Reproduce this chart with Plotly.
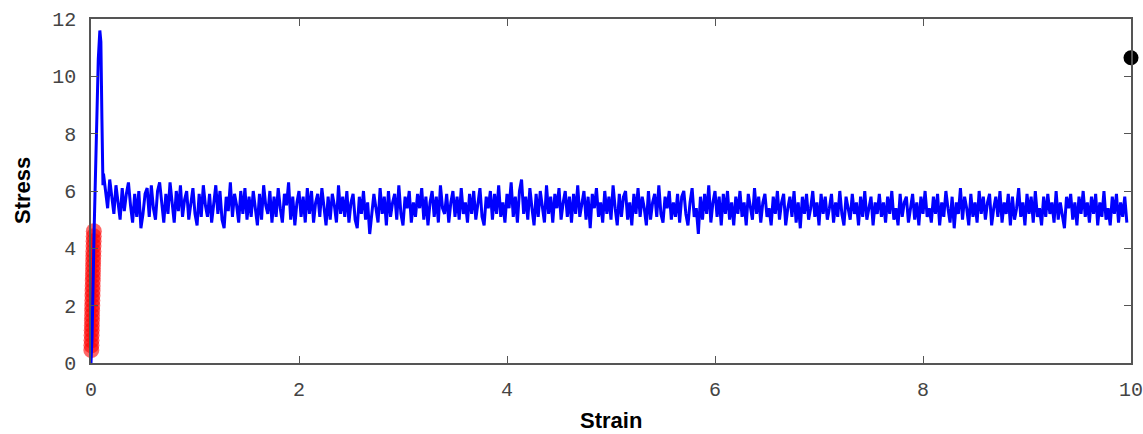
import numpy as np
import plotly.graph_objects as go

# Initial loading ramp and peak
ramp_strain = [0.0, 0.01, 0.03, 0.05, 0.07, 0.085, 0.095, 0.105, 0.115]
ramp_stress = [0.0, 0.9, 4.6, 7.8, 10.6, 11.6, 11.2, 8.5, 6.2]

# Steady flow regime (strain 0.12 .. ~9.96, step 0.02)
flow_stress = [
    6.6,6.0,5.4,6.4,5.7,5.2,6.2,5.6,5.0,6.1,5.3,5.9,6.3,5.5,4.9,5.9,5.1,6.0,4.7,5.2,5.9,6.1,5.1,6.2,5.4,
    5.0,6.0,6.3,5.6,4.9,5.9,5.2,6.3,5.5,4.9,6.0,5.3,6.2,5.1,5.7,6.0,5.0,5.5,6.1,5.2,4.8,5.9,5.1,6.2,5.5,
    5.1,5.9,4.9,5.6,6.2,5.2,6.0,5.0,4.7,5.8,5.3,6.3,5.1,5.9,5.5,4.9,6.0,5.2,6.1,5.0,5.8,5.1,6.0,5.4,4.8,
    5.9,5.0,6.2,5.5,5.2,6.0,4.9,5.8,5.1,6.1,5.4,4.9,5.9,5.5,6.3,5.0,5.8,4.8,5.6,6.0,5.1,5.8,4.9,6.1,5.2,
    6.0,4.9,5.6,5.9,5.1,6.1,5.4,4.8,5.8,5.0,5.9,5.5,4.9,6.2,5.2,5.8,5.1,6.0,4.9,5.6,5.9,5.0,4.7,5.8,5.2,
    6.0,5.0,5.6,4.5,5.1,5.9,5.4,4.9,6.1,5.2,5.8,4.8,6.0,5.1,5.6,5.9,5.0,6.2,5.2,4.8,5.8,5.4,6.0,4.9,5.6,
    5.1,5.9,5.4,6.1,5.0,5.8,4.8,5.6,6.0,5.1,5.8,4.9,6.2,5.4,5.2,5.9,4.9,5.6,6.0,5.1,5.8,5.0,6.1,5.2,5.6,
    4.9,5.9,5.2,6.0,5.0,5.6,6.1,5.1,4.8,5.8,5.4,6.0,5.0,5.9,5.2,6.2,5.1,5.6,4.9,5.9,5.4,6.3,5.1,5.8,4.9,
    6.0,6.4,5.2,5.8,5.0,6.1,5.4,4.8,5.9,5.1,6.0,5.5,4.9,6.2,5.2,5.8,4.9,5.9,5.4,6.1,5.0,5.6,6.0,5.1,5.8,
    4.9,5.9,5.2,6.2,5.1,5.6,6.0,5.0,5.8,4.7,5.9,5.4,6.1,5.1,5.6,4.9,6.0,5.2,5.8,5.0,6.2,5.4,4.8,5.9,5.1,
    5.8,6.0,5.0,5.6,4.8,5.9,5.2,6.1,5.1,5.8,5.4,4.8,6.0,5.0,5.6,5.9,5.1,6.2,5.2,4.9,5.8,5.4,6.0,5.0,5.6,
    5.1,5.9,4.9,5.8,6.0,5.2,4.8,5.6,6.1,5.1,5.4,4.5,5.8,5.0,5.9,5.2,6.2,4.9,5.6,6.0,5.1,5.8,4.8,5.9,5.2,
    6.0,5.0,5.6,4.8,5.8,5.2,6.0,5.1,5.6,4.8,5.9,5.4,5.0,6.1,5.2,5.8,4.9,5.6,5.9,5.1,5.4,4.8,5.8,5.2,6.0,
    5.0,5.6,5.9,4.8,5.4,5.8,5.1,6.0,4.9,5.6,4.7,5.8,5.2,5.9,5.0,5.4,6.0,5.1,5.6,4.8,5.9,5.2,5.8,5.0,5.4,
    5.9,4.9,5.6,5.1,6.0,5.2,4.8,5.8,5.4,5.0,5.9,5.2,5.6,4.8,5.8,5.1,6.0,5.0,5.4,5.8,4.8,5.6,5.2,5.9,5.1,
    5.6,4.9,5.8,5.2,6.0,5.0,5.4,4.8,5.9,5.1,5.6,5.8,4.9,5.4,5.9,5.0,5.6,4.8,5.8,5.2,6.0,5.1,5.4,4.9,5.8,
    5.2,5.9,4.8,5.6,5.1,6.0,5.4,4.9,5.8,4.7,5.6,5.2,6.1,5.0,5.8,5.4,4.8,5.9,5.1,5.6,4.9,6.0,5.2,5.8,5.0,
    5.6,5.9,4.8,5.4,5.8,5.1,6.0,4.9,5.6,5.2,5.9,4.8,5.8,5.0,5.4,6.1,5.1,5.6,4.8,5.9,5.2,5.8,4.9,6.0,5.1,
    5.4,4.8,5.8,5.1,5.9,5.2,5.6,4.9,6.0,5.0,5.6,5.2,4.7,5.8,5.4,5.9,5.0,5.6,4.8,5.8,5.2,6.0,5.1,5.6,4.9,
    5.8,5.2,5.9,4.8,5.6,5.1,6.0,5.0,5.4,4.8,5.8,5.2,5.9,4.9,5.6,5.1,5.8,4.9,
]
flow_strain = np.round(0.12 + 0.02 * np.arange(len(flow_stress)), 3)

strain = list(ramp_strain) + list(flow_strain)
stress = list(ramp_stress) + list(flow_stress)

# Highlighted elastic region (red markers)
elastic_strain = [0.003, 0.004, 0.005, 0.006, 0.007, 0.008, 0.009, 0.010, 0.011, 0.012, 0.013, 0.014, 0.015,
                  0.016, 0.017, 0.018, 0.019, 0.020, 0.021, 0.022, 0.023, 0.024, 0.025, 0.026, 0.027]
elastic_stress = [0.45, 0.62, 0.79, 0.97, 1.14, 1.31, 1.48, 1.66, 1.83, 2.00, 2.18, 2.35, 2.52,
                  2.69, 2.87, 3.04, 3.21, 3.39, 3.56, 3.73, 3.90, 4.08, 4.25, 4.42, 4.60]

# Single marker on the right edge
dot_strain = [10.0]
dot_stress = [10.65]

x_ticks = [0, 2, 4, 6, 8, 10]
y_ticks = [0, 2, 4, 6, 8, 10, 12]

fig = go.Figure()
fig.add_trace(go.Scatter(
    x=elastic_strain, y=elastic_stress, mode="markers",
    marker=dict(size=16, color="rgba(255,0,0,0.6)", line=dict(width=0)),
    cliponaxis=False, showlegend=False, hoverinfo="skip"))
fig.add_trace(go.Scatter(
    x=strain, y=stress, mode="lines",
    line=dict(color="#0000ff", width=3),
    showlegend=False))
fig.add_trace(go.Scatter(
    x=dot_strain, y=dot_stress, mode="markers",
    marker=dict(size=15, color="black"),
    cliponaxis=False, showlegend=False))

tickfont = dict(family="Liberation Mono, DejaVu Sans Mono, monospace", size=20, color="#444")
titlefont = dict(family="Liberation Sans, Arial, sans-serif", size=22, color="black", weight="bold")

fig.update_layout(
    width=1143, height=434,
    margin=dict(l=91, r=12, t=19, b=71),
    plot_bgcolor="white", paper_bgcolor="white",
    xaxis=dict(range=[0, 10], tickvals=x_ticks, ticktext=[str(v) for v in x_ticks],
               ticks="inside", ticklen=7, tickcolor="#555", tickwidth=1.2,
               showline=True, linecolor="#555", linewidth=1.5, mirror="ticks",
               showgrid=False, zeroline=False, tickfont=tickfont,
               ticklabelstandoff=7, automargin=False, ticklabeloverflow="allow"),
    yaxis=dict(range=[0, 12], tickvals=y_ticks, ticktext=[str(v) for v in y_ticks],
               ticks="inside", ticklen=7, tickcolor="#555", tickwidth=1.2,
               showline=True, linecolor="#555", linewidth=1.5, mirror="ticks",
               showgrid=False, zeroline=False, tickfont=tickfont,
               ticklabelstandoff=9, automargin=False, ticklabeloverflow="allow"),
    annotations=[
        dict(text="Strain", xref="paper", yref="paper", x=0.5, y=-(420 - 363) / 344,
             xanchor="center", yanchor="middle", showarrow=False, font=titlefont),
        dict(text="Stress", xref="paper", yref="paper", x=(22 - 91) / 1040, y=(363 - 191) / 344,
             xanchor="center", yanchor="middle", textangle=-90, showarrow=False, font=titlefont),
    ],
)

fig.write_html("out.html")
